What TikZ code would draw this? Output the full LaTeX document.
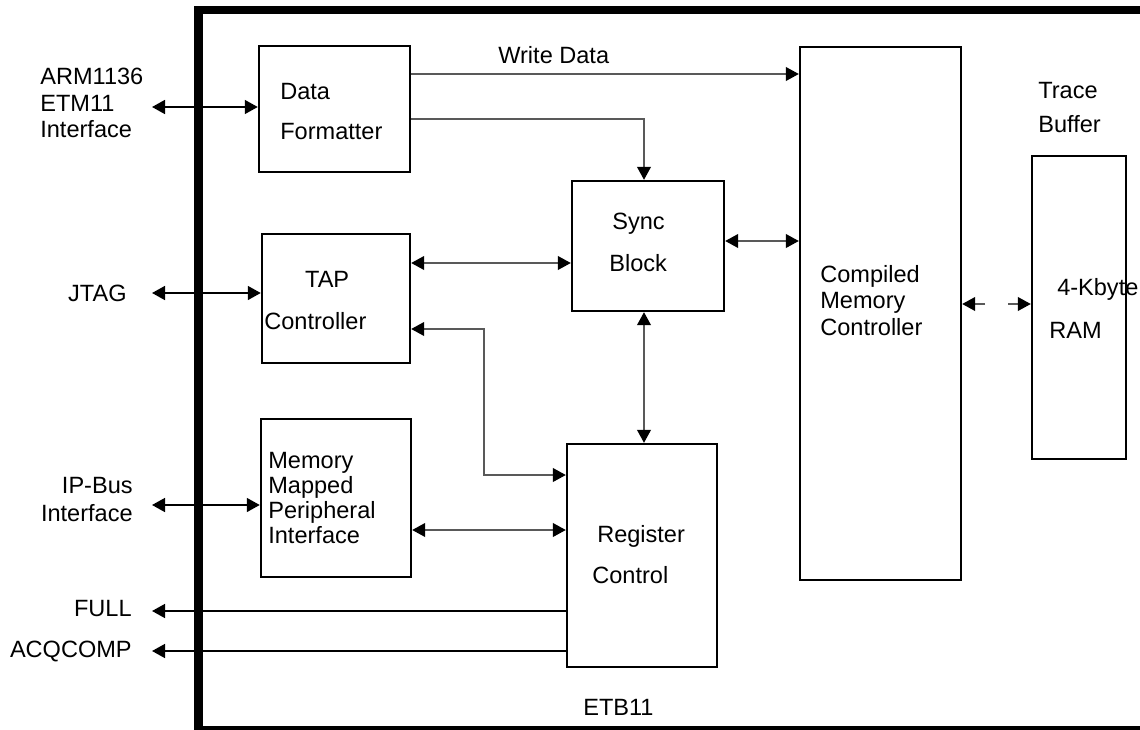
\documentclass[tikz,border=0pt]{standalone}
\usepackage{fontspec}
\setmainfont{Liberation Sans}
\usetikzlibrary{arrows.meta}
\tikzset{etbbox/.style={draw, line width=1.4pt, inner sep=0pt},
  etblabel/.style={inner sep=0pt, anchor=north west, align=left, font=\fontsize{13.4}{15}\selectfont},
  etbrlabel/.style={etblabel, anchor=north east, align=right},
  etbtip/.tip={Triangle[length=7.4pt, width=7.9pt, color=black]},
  extarrow/.style={line width=1.1pt},
  intarrow/.style={line width=0.8pt, draw=black!65}}

\begin{document}
\begin{tikzpicture}[x={(0.02cm,0)}, y={(0,-0.02cm)}]
\useasboundingbox (0,0) rectangle (1140,730);
\fill (194,6) rectangle (1150,14);
\fill (194,6) rectangle (203,730);
\draw[line width=2pt] (194,728) -- (1150,728);

\node[etbbox, minimum width=3.02cm, minimum height=2.52cm] (df) at (334.5,109) {};
\node[etbbox, minimum width=2.96cm, minimum height=2.58cm] (tap) at (336,298.5) {};
\node[etbbox, minimum width=3.0cm, minimum height=3.16cm] (mmpi) at (336,498) {};
\node[etbbox, minimum width=3.04cm, minimum height=2.6cm] (sync) at (648,246) {};
\node[etbbox, minimum width=3.0cm, minimum height=4.46cm] (reg) at (642,555.5) {};
\node[etbbox, minimum width=3.22cm, minimum height=10.66cm] (cmc) at (880.5,313.5) {};
\node[etbbox, minimum width=1.88cm, minimum height=6.06cm] (ram) at (1079,307.5) {};

\node[etblabel] (dflbl) at (280,83) {Data\\[7.7pt]Formatter};
\node[etblabel] (taplbl) at (264,271) {\hspace*{23.2pt}TAP\\[8.8pt]Controller};
\node[etblabel] (mmpilbl) at (268,452) {Memory\\[-0.85pt]Mapped\\[-0.85pt]Peripheral\\[-0.85pt]Interface};
\node[etblabel] (synclbl) at (609,213) {\hspace*{1.7pt}Sync\\[8.8pt]Block};
\node[etblabel] (reglbl) at (592,525) {\hspace*{2.8pt}Register\\[8.2pt]Control};
\node[etblabel] (cmclbl) at (820,265) {Compiled\\Memory\\Controller};
\node[etblabel] (tracelbl) at (1038,82) {Trace\\[4.3pt]Buffer};
\node[etblabel] (ramlbl) at (1049,278) {\hspace*{4.5pt}4-Kbyte\\[9.4pt]RAM};
\node[etblabel] (wrlbl) at (498,46) {Write Data};
\node[etblabel] (etblbl) at (583,699) {ETB11};

\node[etblabel] (armlbl) at (40,68) {ARM1136\\ETM11\\Interface};
\node[etbrlabel] (jtaglbl) at (127,285) {JTAG};
\node[etbrlabel] (iplbl) at (133,477) {IP-Bus\\[0.85pt]Interface};
\node[etbrlabel] (fulllbl) at (132,600) {FULL};
\node[etbrlabel] (acqlbl) at (132,641) {ACQCOMP};

\coordinate (armin) at (152,107);
\coordinate (jtagin) at (152,293);
\coordinate (ipin) at (152,505);
\coordinate (fullout) at (152,611);
\coordinate (acqout) at (152,651);
\draw[extarrow, etbtip-etbtip] (armin) -- (armin -| df.west);
\draw[extarrow, etbtip-etbtip] (jtagin) -- (jtagin -| tap.west);
\draw[extarrow, etbtip-etbtip] (ipin) -- (ipin -| mmpi.west);
\draw[extarrow, -etbtip] (fullout -| reg.west) -- (fullout);
\draw[extarrow, -etbtip] (acqout -| reg.west) -- (acqout);

\draw[intarrow, -etbtip] (df.east |- 0,74) -- (cmc.west |- 0,74);
\draw[intarrow, -etbtip] (df.east |- 0,119) -| (sync.north -| 644,0);
\draw[intarrow, etbtip-etbtip] (tap.east |- 0,263) -- (sync.west |- 0,263);
\draw[intarrow, etbtip-etbtip] (sync.east |- 0,241) -- (cmc.west |- 0,241);
\draw[intarrow, etbtip-etbtip] (sync.south -| 644,0) -- (reg.north -| 644,0);
\draw[intarrow, etbtip-etbtip] (tap.east |- 0,329) -- (484,329) |- (reg.west |- 0,475);
\draw[intarrow, etbtip-etbtip] (mmpi.east |- 0,530) -- (reg.west |- 0,530);

\coordinate (cmcgap) at (985,304);
\coordinate (ramgap) at (1008,304);
\draw[intarrow, -etbtip] (cmcgap) -- (cmcgap -| cmc.east);
\draw[intarrow, -etbtip] (ramgap) -- (ramgap -| ram.west);
\end{tikzpicture}
\end{document}
